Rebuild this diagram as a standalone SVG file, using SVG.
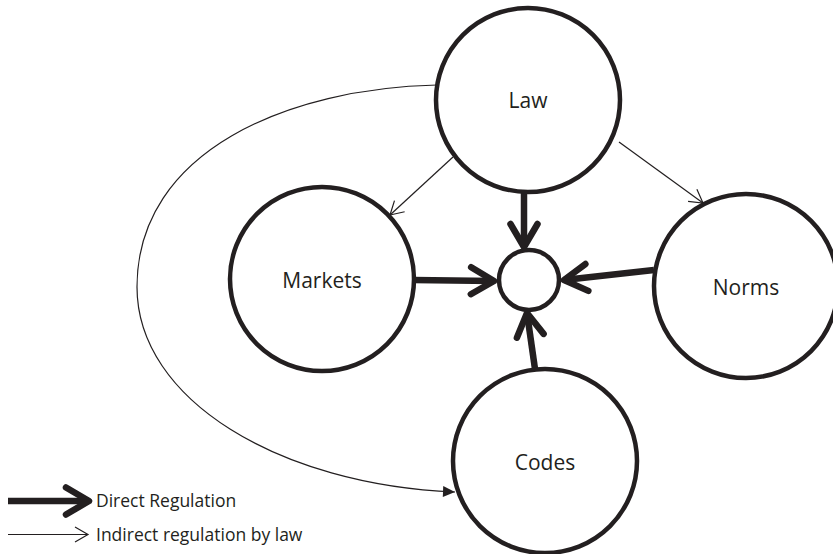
<svg xmlns="http://www.w3.org/2000/svg" width="833" height="554" viewBox="0 0 833 554">
<style>
.node{fill:#fff;stroke:#231f20;stroke-width:4.5}
.lbl{font-family:"Open Sans","Noto Sans",sans-serif;font-size:21px;fill:#231f20;text-anchor:middle}
.leg{font-family:"Open Sans","Noto Sans",sans-serif;font-size:17.5px;fill:#231f20}
.thick{fill:none;stroke:#231f20;stroke-width:6.5}
.thin{fill:none;stroke:#231f20;stroke-width:1.2}
</style>
<defs>
<marker id="bigHead" markerUnits="userSpaceOnUse" viewBox="-40 -25 50 50" refX="0" refY="0" markerWidth="50" markerHeight="50" orient="auto" overflow="visible">
<path d="M-23,-13.5 L0,0 L-23,13.5" fill="none" stroke="#231f20" stroke-width="6.5" stroke-linecap="round" stroke-linejoin="round"/>
</marker>
<marker id="thinHead" markerUnits="userSpaceOnUse" viewBox="-20 -12 24 24" refX="0" refY="0" markerWidth="24" markerHeight="24" orient="auto" overflow="visible">
<path d="M-13,-7.5 L0,0 L-13,7.5" fill="none" stroke="#231f20" stroke-width="1.2"/>
</marker>
<marker id="fillHead" markerUnits="userSpaceOnUse" viewBox="-14 -8 16 16" refX="0" refY="0" markerWidth="16" markerHeight="16" orient="auto" overflow="visible">
<path d="M-12,-5.5 L0,0 L-12,5.5 Z" fill="#231f20"/>
</marker>
</defs>
<g id="connectors">
<path class="thin" d="M437,85 C290,88 137,150 137,287 C137,400 280,485 455,492" marker-end="url(#fillHead)"/>
<line class="thin" x1="453" y1="157" x2="390" y2="215" marker-end="url(#thinHead)"/>
<line class="thin" x1="619" y1="142" x2="703" y2="203" marker-end="url(#thinHead)"/>
<line class="thick" x1="524" y1="192" x2="524" y2="247" marker-end="url(#bigHead)"/>
<line class="thick" x1="413" y1="280" x2="494" y2="281" marker-end="url(#bigHead)"/>
<line class="thick" x1="654" y1="270" x2="564" y2="280" marker-end="url(#bigHead)"/>
<line class="thick" x1="535" y1="369" x2="527" y2="313" marker-end="url(#bigHead)"/>
</g>
<g id="node-law"><circle class="node" cx="528" cy="100" r="92"/><text class="lbl" x="528" y="107.5">Law</text></g>
<g id="node-markets"><circle class="node" cx="322" cy="279" r="92"/><text class="lbl" x="322" y="287.5">Markets</text></g>
<g id="node-norms"><circle class="node" cx="746" cy="286" r="92"/><text class="lbl" x="746" y="294.5">Norms</text></g>
<g id="node-codes"><circle class="node" cx="545" cy="461" r="92"/><text class="lbl" x="545" y="469.5">Codes</text></g>
<g id="node-center"><circle class="node" cx="529" cy="280" r="30"/></g>
<g id="legend">
<line class="thick" x1="8" y1="501" x2="89" y2="501" marker-end="url(#bigHead)"/>
<text class="leg" x="96" y="507">Direct Regulation</text>
<line class="thin" x1="8" y1="534.5" x2="88" y2="534.5" marker-end="url(#thinHead)"/>
<text class="leg" x="96" y="541">Indirect regulation by law</text>
</g>
</svg>
